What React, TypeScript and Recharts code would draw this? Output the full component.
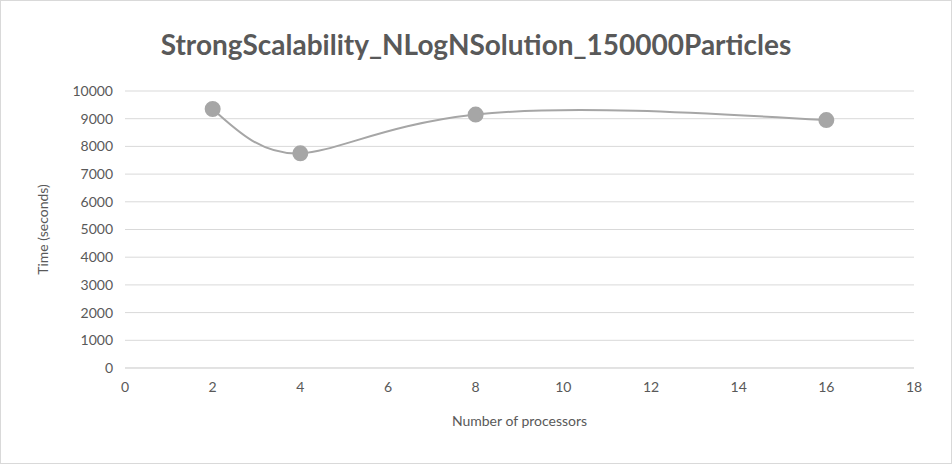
import React from 'react';
import { LineChart, Line, XAxis, YAxis, CartesianGrid } from 'recharts';

const processors = [2, 4, 8, 16];
const times = [9350, 7750, 9150, 8950];
const xTicks = [0, 2, 4, 6, 8, 10, 12, 14, 16, 18];
const yTicks = [0, 1000, 2000, 3000, 4000, 5000, 6000, 7000, 8000, 9000, 10000];

const data = processors.map((p, i) => ({ p, t: times[i] }));

const font = 'Lato, "Open Sans", sans-serif';

const App: React.FC = () => (
    <div style={{ position: 'absolute', left: 0, top: 0, width: 950, height: 462, border: '1px solid #d9d9d9', background: '#fff', fontFamily: font }}>
        <div style={{ position: 'absolute', top: 26, width: '100%', textAlign: 'center', fontSize: 28, fontWeight: 'bold', color: '#595959' }}>
            StrongScalability_NLogNSolution_150000Particles
        </div>
        <LineChart width={950} height={462} data={data} margin={{ top: 90, right: 37, bottom: 65, left: 0 }}>
            <CartesianGrid vertical={false} stroke="#d9d9d9" />
            <XAxis
                dataKey="p"
                type="number"
                domain={[0, 18]}
                ticks={xTicks}
                axisLine={{ stroke: '#d9d9d9' }}
                tickLine={false}
                tick={{ fill: '#595959', fontSize: 14, fontFamily: font }}
                tickMargin={8}
                label={{ value: 'Number of processors', position: 'insideBottom', offset: -28, fill: '#595959', fontSize: 14, fontFamily: font }}
            />
            <YAxis
                width={124}
                domain={[0, 10000]}
                ticks={yTicks}
                axisLine={false}
                tickLine={false}
                tick={{ fill: '#595959', fontSize: 14, fontFamily: font }}
                tickMargin={6}
                label={{ value: 'Time (seconds)', angle: -90, position: 'insideLeft', offset: 42, fill: '#595959', fontSize: 14, fontFamily: font, style: { textAnchor: 'middle' } }}
            />
            <Line
                type="natural"
                dataKey="t"
                stroke="#a6a6a6"
                strokeWidth={2}
                dot={{ r: 7, fill: '#a6a6a6', stroke: '#a6a6a6' }}
                isAnimationActive={false}
            />
        </LineChart>
    </div>
);

export default App;
